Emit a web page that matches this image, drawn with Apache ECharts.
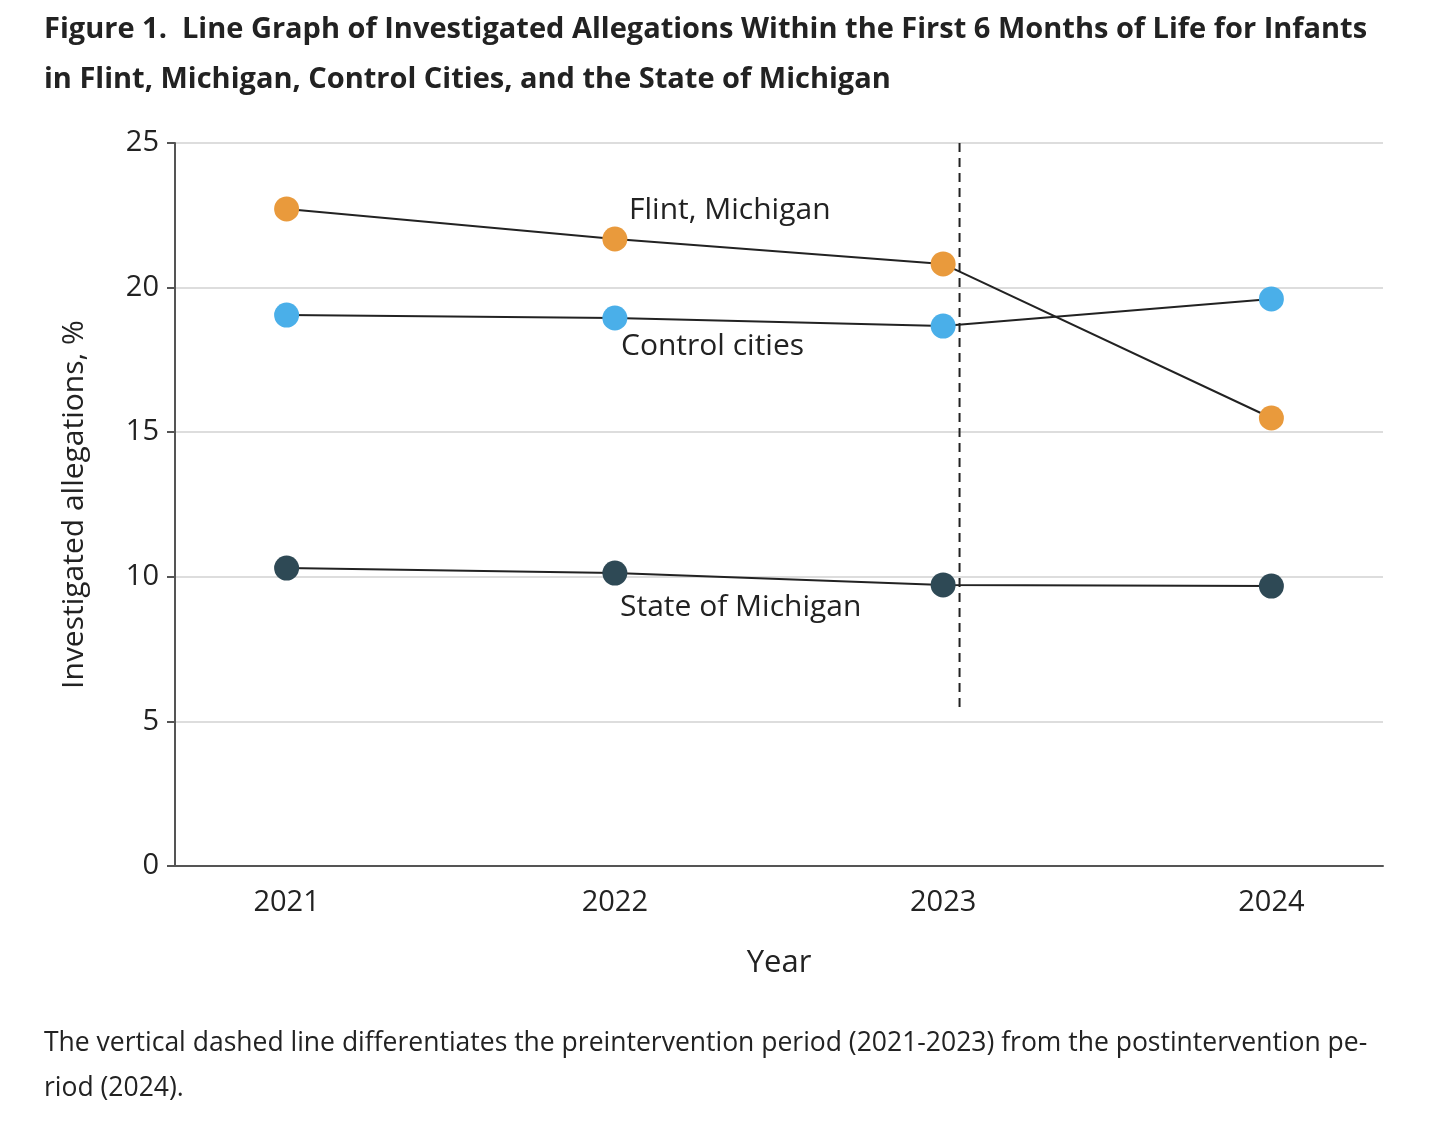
<!DOCTYPE html>
<html><head><meta charset="utf-8">
<script src="https://cdn.jsdelivr.net/npm/echarts@6/dist/echarts.min.js"></script>
<style>html,body{margin:0;padding:0;background:#fff}#c{width:1434px;height:1130px}</style>
</head><body><div id="c"></div>
<script>
const years = [2021, 2022, 2023, 2024];
const flint = [22.72, 21.68, 20.82, 15.49];
const control = [19.05, 18.95, 18.67, 19.61];
const state = [10.30, 10.13, 9.72, 9.68];
const yTicks = [0, 5, 10, 15, 20, 25];
const interventionX = 2023.05;
const interventionTop = 25, interventionBottom = 5.4;

const F = '"Open Sans", "Noto Sans", sans-serif';
const chart = echarts.init(document.getElementById('c'));
function mk(name, data, color) {
  return {
    name, type: 'line', data: years.map((y, i) => [y, data[i]]),
    symbol: 'circle', symbolSize: 25,
    lineStyle: {color: '#222', width: 2},
    itemStyle: {color: color, borderWidth: 0},
    z: 3
  };
}
chart.setOption({
  animation: false,
  textStyle: {fontFamily: F},
  title: [{
    text: 'Figure 1.  Line Graph of Investigated Allegations Within the First 6 Months of Life for Infants\nin Flint, Michigan, Control Cities, and the State of Michigan',
    left: 39, top: 0,
    textStyle: {fontFamily: F, fontSize: 29, fontWeight: 'bold', color: '#222', lineHeight: 50}
  }, {
    text: 'The vertical dashed line differentiates the preintervention period (2021-2023) from the postintervention pe-\nriod (2024).',
    left: 39, top: 1016,
    textStyle: {fontFamily: F, fontSize: 26.5, fontWeight: 'normal', color: '#222', lineHeight: 45}
  }],
  grid: {left: 175, right: 51, top: 143, bottom: 264},
  xAxis: {
    type: 'value', min: 2020.66, max: 2024.34,
    name: 'Year', nameLocation: 'middle', nameGap: 82,
    nameTextStyle: {fontSize: 31, color: '#222', fontFamily: F},
    axisLine: {show: true, onZero: false, lineStyle: {color: '#555', width: 2}},
    axisTick: {show: false},
    splitLine: {show: false},
    axisLabel: {customValues: years, fontSize: 29, color: '#222', margin: 22, fontFamily: F, formatter: v => String(v)}
  },
  yAxis: {
    type: 'value', min: 0, max: 25, interval: 5,
    name: 'Investigated allegations, %', nameLocation: 'middle', nameGap: 86,
    nameTextStyle: {fontSize: 30, color: '#222', fontFamily: F},
    axisLine: {show: true, lineStyle: {color: '#555', width: 2}},
    axisTick: {show: true, length: 8, lineStyle: {color: '#555', width: 2}},
    splitLine: {lineStyle: {color: '#ddd', width: 2}},
    axisLabel: {fontSize: 29, color: '#222', margin: 16, fontFamily: F}
  },
  series: [
    mk('Flint, Michigan', flint, '#E99A3C'),
    mk('Control cities', control, '#4AAFE9'),
    mk('State of Michigan', state, '#2E4955'),
    {
      type: 'line', data: [[interventionX, interventionTop], [interventionX, interventionBottom]],
      symbol: 'none', lineStyle: {color: '#222', width: 2, type: [9, 6]}, z: 2
    }
  ],
  graphic: [
    {type: 'text', left: 629, top: 195, style: {text: 'Flint, Michigan', font: '30px ' + F, fill: '#222'}},
    {type: 'text', left: 621, top: 331, style: {text: 'Control cities', font: '30px ' + F, fill: '#222'}},
    {type: 'text', left: 620, top: 592, style: {text: 'State of Michigan', font: '30px ' + F, fill: '#222'}}
  ]
});
</script></body></html>
